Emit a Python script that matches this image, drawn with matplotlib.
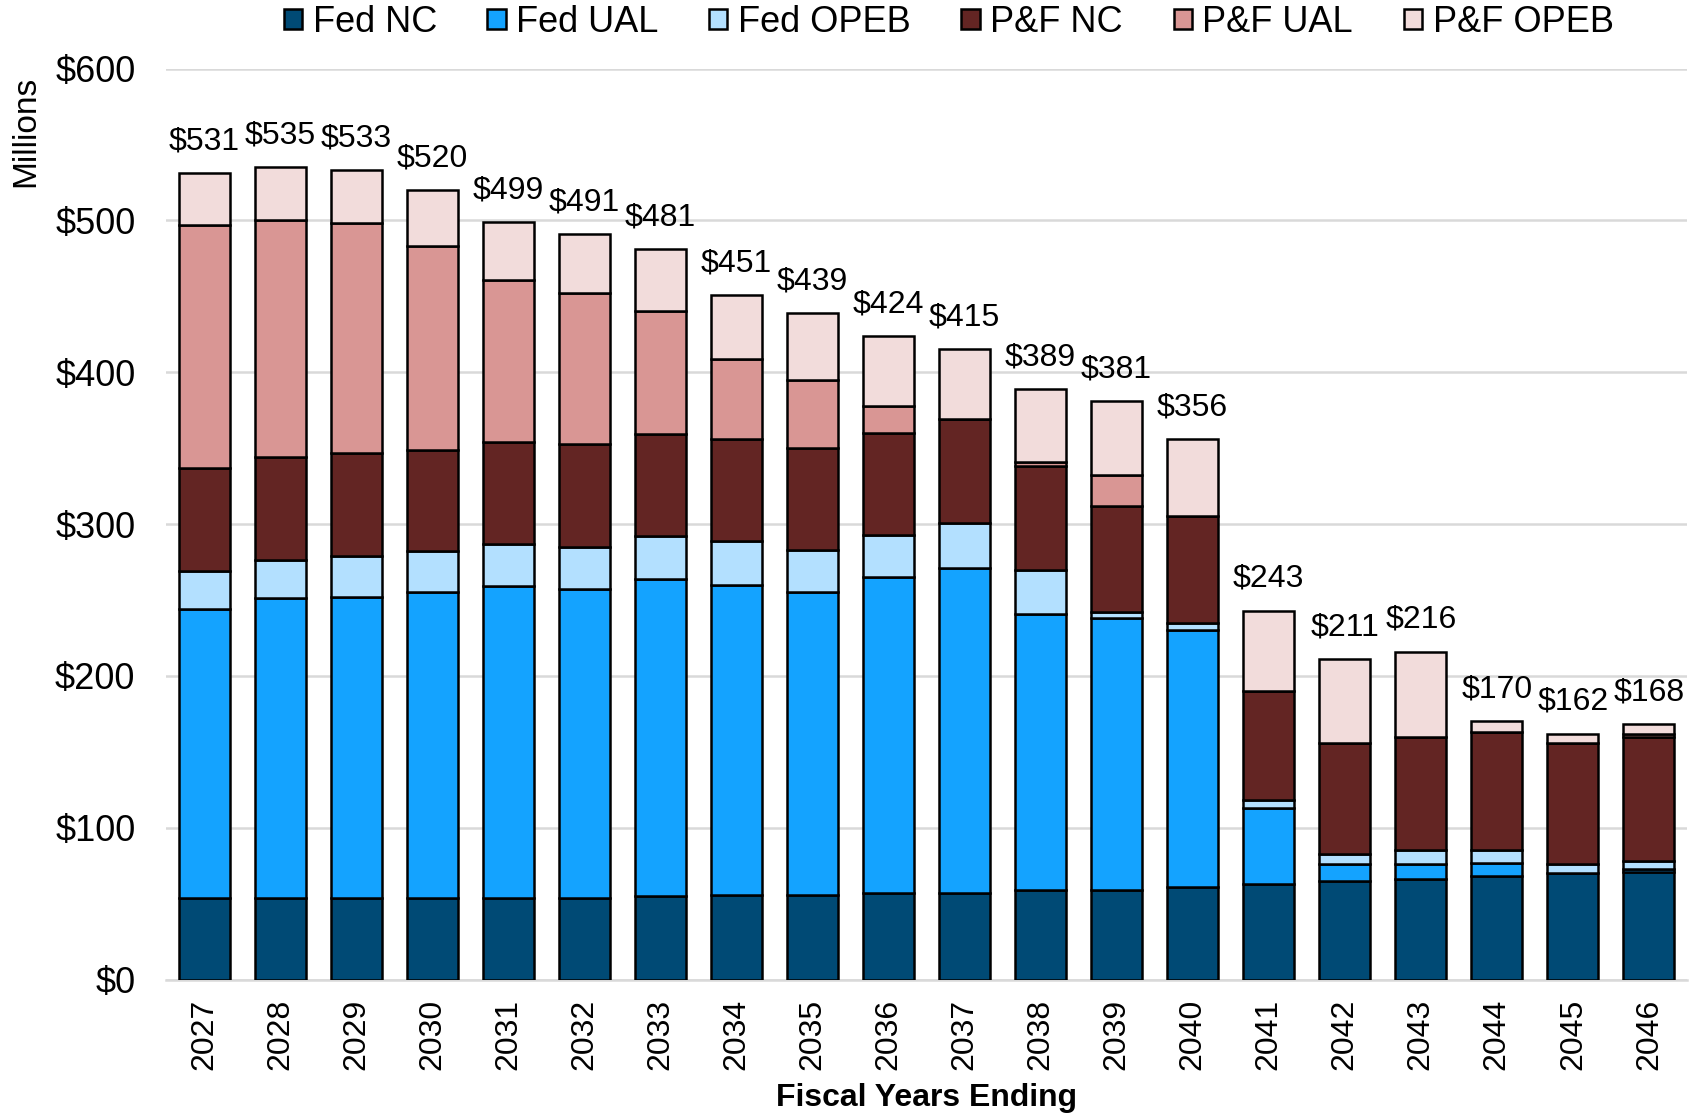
import numpy as np
import matplotlib
matplotlib.use("Agg")
import matplotlib.pyplot as plt

plt.rcParams["font.family"] = ["Liberation Sans", "DejaVu Sans"]

years = ["2027", "2028", "2029", "2030", "2031", "2032", "2033", "2034", "2035", "2036",
         "2037", "2038", "2039", "2040", "2041", "2042", "2043", "2044", "2045", "2046"]

# values in $ millions
fed_nc = [54, 54, 54, 54, 54, 54, 55, 56, 56, 57, 57, 59, 59, 61, 63, 65, 66, 68, 70, 71]
fed_ual = [190, 197, 198, 201, 205, 203, 209, 204, 199, 208, 214, 182, 179, 169, 50, 11, 10, 9, 0, 2]
fed_opeb = [25, 25, 27, 27, 28, 28, 28, 29, 28, 28, 30, 29, 4, 5, 5, 7, 9, 8, 6, 5]
pf_nc = [68, 68, 68, 67, 67, 68, 67, 67, 67, 67, 68, 68, 70, 70, 72, 73, 75, 78, 80, 82]
pf_ual = [160, 156, 151, 134, 107, 99, 81, 53, 45, 18, 0, 3, 20, 0, 0, 0, 0, 0, 0, 2]
pf_opeb = [34, 35, 35, 37, 38, 39, 41, 42, 44, 46, 46, 48, 49, 51, 53, 55, 56, 7, 6, 6]

series_names = ["Fed NC", "Fed UAL", "Fed OPEB", "P&F NC", "P&F UAL", "P&F OPEB"]
series_colors = ["#004A75", "#14A3FF", "#B3E0FF", "#632523", "#D99694", "#F2DCDB"]


def stacked_bars(ax, x, layers, names, colors):
    """
    Draw stacked bars and return the top of every stack.
    """
    bottom = np.zeros(len(x))
    for vals, name, col in zip(layers, names, colors):
        vals = np.asarray(vals, dtype=float)
        ax.bar(x, vals, bottom=bottom, width=0.67, color=col, label=name,
               edgecolor="black", linewidth=1.8, zorder=3)
        bottom += vals
    return bottom


fig = plt.figure(figsize=(17.03, 11.14), dpi=100)
ax = fig.add_axes([0.0975, 0.1207, 0.8931, 0.8178])

x = np.arange(len(years))
totals = stacked_bars(ax, x, [fed_nc, fed_ual, fed_opeb, pf_nc, pf_ual, pf_opeb],
                      series_names, series_colors)

# total labels above each bar
for xi, tot in zip(x, totals):
    ax.annotate(f"${tot:.0f}", (xi, tot), xytext=(0, 17), textcoords="offset points",
                ha="center", va="baseline", fontsize=23)

ax.set_xlim(-0.5, len(years) - 0.5)
ax.set_ylim(0, 600)
ax.set_yticks(np.arange(0, 601, 100))
ax.set_yticklabels([f"${v}" for v in range(0, 601, 100)], fontsize=26)
ax.set_xticks(x)
ax.set_xticklabels(years, rotation=90, fontsize=23)
ax.tick_params(axis="y", length=0, pad=22)
ax.tick_params(axis="x", length=0, pad=14)

ax.grid(axis="y", color="#D9D9D9", linewidth=1.8, zorder=0)
ax.set_axisbelow(True)
for side in ["top", "right", "left"]:
    ax.spines[side].set_visible(False)
ax.spines["bottom"].set_color("#D9D9D9")
ax.spines["bottom"].set_linewidth(1.8)

ax.set_xlabel("Fiscal Years Ending", fontsize=23, fontweight="bold", labelpad=9)
fig.text(0.015, 1 - 76 / 1114, "Millions", rotation=90, fontsize=24,
         ha="center", va="top")

fig.legend(loc="center", bbox_to_anchor=(0.557, 0.980), ncol=6, frameon=False,
           fontsize=26, handlelength=0.5, handleheight=0.5, handletextpad=0.3,
           columnspacing=1.4, borderaxespad=0)

fig.savefig("out.png", dpi=100)
